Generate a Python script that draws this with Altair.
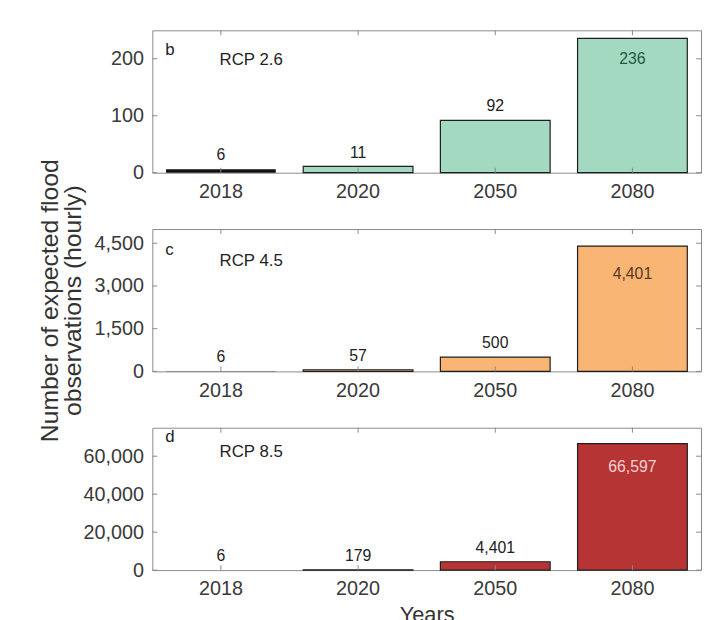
import pandas as pd
import altair as alt

# Data
years = ["2018", "2020", "2050", "2080"]
rcp26 = [6, 11, 92, 236]
rcp45 = [6, 57, 500, 4401]
rcp85 = [6, 179, 4401, 66597]

ticks26 = [0, 100, 200]
ticks45 = [0, 1500, 3000, 4500]
ticks85 = [0, 20000, 40000, 60000]

FONT = "Liberation Sans"
W, H = 555, 144
FRAME = "#8a8a8a"


def panel(vals, color, yticks, ymax, letter, rcp, in_color, in_dy,
          letter_y, rcp_y, ytitle=None, xtitle=None):
    df = pd.DataFrame({"year": years, "value": vals})
    tick_df = pd.DataFrame({"v": yticks})
    yscale = alt.Scale(domain=[0, ymax], nice=False, zero=True)

    xaxis = dict(labelAngle=0, labelFontSize=20, labelColor="#3a3a3a", ticks=False,
                 tickSize=0, domain=False, labelPadding=9, labelFont=FONT)
    if xtitle:
        xaxis.update(title=xtitle, titleFontSize=22, titleFontWeight="normal",
                     titleColor="#333333", titlePadding=6, titleFont=FONT)
    else:
        xaxis.update(title=None)
    yaxis = dict(values=yticks, format=",.0f", labelFontSize=20, labelColor="#3a3a3a",
                 ticks=False, tickSize=0, domain=False, grid=False, labelPadding=9,
                 labelFont=FONT, labelOverlap=False)
    if ytitle:
        yaxis.update(title=ytitle, titleFontSize=25, titleFontWeight="normal",
                     titleColor="#333333", titlePadding=9, titleLineHeight=23,
                     titleFont=FONT)
    else:
        yaxis.update(title=None)

    x = alt.X("year:N", sort=years,
              scale=alt.Scale(paddingInner=0.2, paddingOuter=0.1),
              axis=alt.Axis(**xaxis))

    bars = alt.Chart(df).mark_bar(stroke="#1e1e1e").encode(
        x=x,
        y=alt.Y("value:Q", scale=yscale, axis=alt.Axis(**yaxis)),
        fill=alt.condition(alt.datum.year == "2018", alt.value("#111111"), alt.value(color)),
        strokeWidth=alt.condition(alt.datum.year == "2018", alt.value(0), alt.value(1.2)),
    )

    above = alt.Chart(df).transform_filter(alt.datum.year != "2080").mark_text(
        baseline="bottom", dy=-6, fontSize=16, color="#222222", font=FONT
    ).encode(
        x=alt.X("year:N", sort=years),
        y=alt.Y("value:Q", scale=yscale),
        text=alt.Text("value:Q", format=","),
    )

    inside = alt.Chart(df).transform_filter(alt.datum.year == "2080").mark_text(
        baseline="top", dy=in_dy, fontSize=16, color=in_color, font=FONT
    ).encode(
        x=alt.X("year:N", sort=years),
        y=alt.Y("value:Q", scale=yscale),
        text=alt.Text("value:Q", format=","),
    )

    # inward ticks like a boxed figure
    yl = alt.Chart(tick_df).mark_rule(color=FRAME).encode(
        y=alt.Y("v:Q", scale=yscale), x=alt.value(0), x2=alt.value(5))
    yr = alt.Chart(tick_df).mark_rule(color=FRAME).encode(
        y=alt.Y("v:Q", scale=yscale), x=alt.value(W - 5), x2=alt.value(W))
    xt = alt.Chart(df).mark_rule(color=FRAME).encode(
        x=alt.X("year:N", sort=years), y=alt.value(0), y2=alt.value(5))
    xb = alt.Chart(df).mark_rule(color=FRAME).encode(
        x=alt.X("year:N", sort=years), y=alt.value(H - 5), y2=alt.value(H))

    lab = alt.Chart(pd.DataFrame({"t": [letter]})).mark_text(
        align="left", baseline="alphabetic", fontSize=17, color="#222222", font=FONT
    ).encode(x=alt.value(13), y=alt.value(letter_y), text="t:N")
    rc = alt.Chart(pd.DataFrame({"t": [rcp]})).mark_text(
        align="left", baseline="alphabetic", fontSize=17, color="#222222", font=FONT
    ).encode(x=alt.value(68), y=alt.value(rcp_y), text="t:N")

    return alt.layer(bars, xt, xb, yl, yr, above, inside, lab, rc).properties(
        width=W, height=H)


b = panel(rcp26, "#a3d9c1", ticks26, 250, "b", "RCP 2.6", "#1d5a44", 13, 25, 35)
c = panel(rcp45, "#f8b574", ticks45, 5000, "c", "RCP 4.5", "#5a3a1c", 20, 26, 37,
          ytitle=["Number of expected flood", "observations (hourly)"])
d = panel(rcp85, "#b73434", ticks85, 75000, "d", "RCP 8.5", "#f4d3d3", 16, 14, 30,
          xtitle="Years")

chart = alt.vconcat(b, c, d, spacing=57, bounds="flush").resolve_scale(
    x="independent", y="independent"
).properties(
    padding={"left": 29, "top": 18, "right": 0, "bottom": 0},
    background="white",
).configure_view(
    stroke=FRAME, strokeWidth=1
)

chart.save("out.html", embed_options={"renderer": "svg", "actions": False})
